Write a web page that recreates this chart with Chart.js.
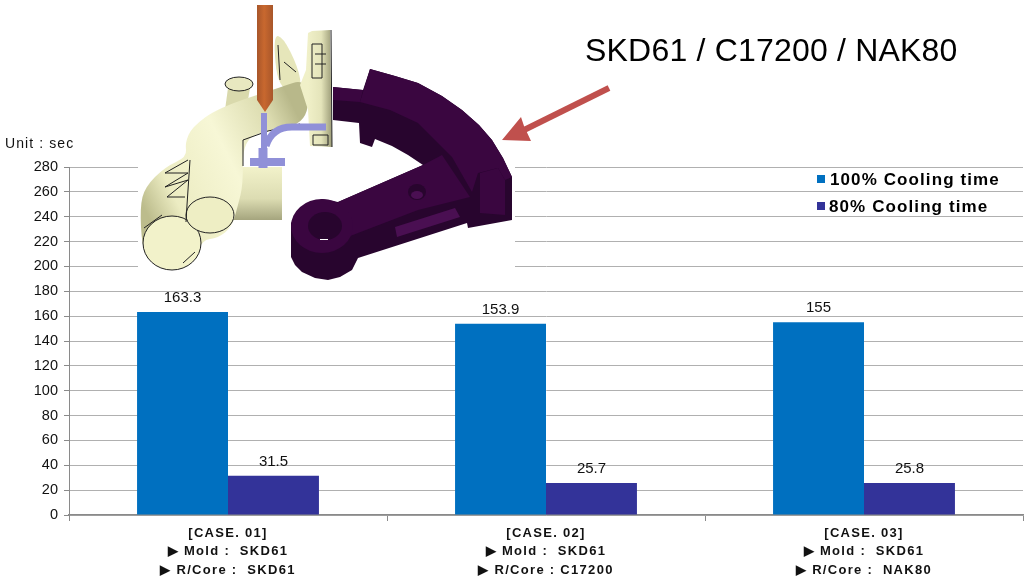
<!DOCTYPE html>
<html><head><meta charset="utf-8">
<style>html,body{margin:0;padding:0;background:#fff;overflow:hidden}#w{position:relative;width:1027px;height:584px}canvas{display:block}</style>
<script src="https://cdn.jsdelivr.net/npm/chart.js@4"></script>
</head><body><div id="w"><canvas id="c" width="1027" height="584"></canvas></div>
<script>
const categories = [
  ["[CASE. 01]", "▶ Mold :  SKD61", "▶ R/Core :  SKD61"],
  ["[CASE. 02]", "▶ Mold :  SKD61", "▶ R/Core : C17200"],
  ["[CASE. 03]", "▶ Mold :  SKD61", "▶ R/Core :  NAK80"]
];
const seriesNames = ["100% Cooling time", "80% Cooling time"];
const cooling100 = [163.3, 153.9, 155];
const cooling80 = [31.5, 25.7, 25.8];
const seriesColors = ["#0070c0", "#333399"];
const titleText = "SKD61 / C17200 / NAK80";
const unitText = "Unit : sec";
const sans = '"Liberation Sans",Arial,sans-serif';

function poly(ctx, pts, fill){
  ctx.beginPath();
  pts.forEach((p,i)=> i ? ctx.lineTo(p[0],p[1]) : ctx.moveTo(p[0],p[1]));
  ctx.closePath(); ctx.fillStyle = fill; ctx.fill();
}
function smooth(ctx, pts, fill){
  const n=pts.length, mid=(a,b)=>[(a[0]+b[0])/2,(a[1]+b[1])/2];
  let m=mid(pts[n-1],pts[0]);
  ctx.beginPath();ctx.moveTo(m[0],m[1]);
  for(let i=0;i<n;i++){const q=mid(pts[i],pts[(i+1)%n]);ctx.quadraticCurveTo(pts[i][0],pts[i][1],q[0],q[1]);}
  ctx.closePath();ctx.fillStyle=fill;ctx.fill();
}
function ell(ctx,x,y,rx,ry,fill,stroke){
  ctx.beginPath(); ctx.ellipse(x,y,rx,ry,0,0,Math.PI*2);
  if(fill){ctx.fillStyle=fill;ctx.fill();}
  if(stroke){ctx.strokeStyle=stroke;ctx.lineWidth=1;ctx.stroke();}
}
function path(ctx,pts,color,w){
  ctx.strokeStyle=color;ctx.lineWidth=w;ctx.beginPath();
  pts.forEach((p,i)=> i?ctx.lineTo(p[0],p[1]):ctx.moveTo(p[0],p[1]));ctx.stroke();
}
function illustration(ctx){
  ctx.fillStyle="#fff"; ctx.fillRect(138,160,377,110);
  const dark="#28052e", mid="#3a0640";
  poly(ctx,[[370,69],[395,76],[418,83],[442,96],[462,110],[479,125],[492,140],[503,158],[512,177],[512,220],[468,228],[467,223],[358,258],[352,270],[340,277],[328,280],[315,278],[302,272],[295,265],[291,257],[291,223],[302,207],[322,199],[338,202],[423,165],[408,155],[392,146],[375,139],[372,147],[360,143],[359,123],[333,120],[333,87],[363,90]],dark);
  poly(ctx,[[370,69],[395,76],[418,83],[442,96],[462,110],[479,125],[492,140],[503,158],[512,177],[505,180],[498,168],[478,173],[472,192],[452,157],[418,123],[390,110],[360,102]],mid);
  poly(ctx,[[333,87],[363,90],[360,102],[333,100]],mid);
  poly(ctx,[[338,202],[423,165],[442,155],[470,197],[418,210],[358,233],[340,240]],mid);
  ell(ctx,322,226,31,27,mid);
  poly(ctx,[[395,227],[455,208],[460,217],[397,237]],"#4a0f52");
  poly(ctx,[[480,173],[498,168],[505,180],[505,215],[480,213]],mid);
  ell(ctx,325,226,17,14,dark);
  ctx.fillStyle="#fff";ctx.fillRect(320,239,8,1);
  ell(ctx,417,192,9,8,dark);
  ell(ctx,417,195,6,4,"#4a0f52");

  const edge="#222";
  smooth(ctx,[[273,35],[283,37],[298,67],[302,90],[278,90]],"#e6e6ba");
  path(ctx,[[278,45],[280,80]],edge,1);
  path(ctx,[[284,62],[296,72]],edge,1);
  poly(ctx,[[228,88],[250,88],[248,100],[225,110]],"#d9d9ac");
  ell(ctx,239,84,14,7,"#e8e8c0",edge);
  const bodyG=ctx.createLinearGradient(140,200,300,120);
  bodyG.addColorStop(0,"#bcbc8c");bodyG.addColorStop(.18,"#ececc2");bodyG.addColorStop(.55,"#f7f7d6");bodyG.addColorStop(.85,"#dcdcb0");bodyG.addColorStop(1,"#b8b88a");
  const blk=ctx.createLinearGradient(0,167,0,220);
  blk.addColorStop(0,"#f2f2ca");blk.addColorStop(.6,"#dcdcb2");blk.addColorStop(1,"#a5a57e");
  poly(ctx,[[243,167],[282,167],[282,220],[228,220],[228,175]],blk);
  smooth(ctx,[[308,78],[278,88],[218,108],[192,127],[185,143],[187,157],[165,167],[145,187],[140,207],[142,247],[150,262],[172,272],[195,260],[202,240],[218,238],[232,227],[238,205],[243,185],[243,140],[268,130],[308,123]],bodyG);
  const fl=ctx.createLinearGradient(308,0,332,0);
  fl.addColorStop(0,"#f0f0c8");fl.addColorStop(.55,"#e4e4ba");fl.addColorStop(1,"#9c9c78");
  poly(ctx,[[308,33],[312,31],[330,30],[332,147],[310,146],[308,110],[300,85],[306,70]],fl);
  path(ctx,[[312,44],[322,44],[322,78],[312,78],[312,44]],edge,1);
  path(ctx,[[315,54],[326,54]],edge,1);path(ctx,[[315,64],[326,64]],edge,1);
  path(ctx,[[331,30],[332,147]],edge,1);
  path(ctx,[[313,135],[328,135],[328,145],[313,145],[313,135]],edge,1);
  path(ctx,[[243,140],[243,166]],edge,1);
  path(ctx,[[243,140],[268,131],[300,124]],edge,1);
  ell(ctx,172,243,29,27,"#f2f2ca",edge);
  ell(ctx,210,215,24,18,"#eeeec4",edge);
  path(ctx,[[188,160],[165,173],[188,173],[165,187],[188,180],[167,197],[185,197]],edge,1);
  path(ctx,[[190,160],[187,205],[186,222]],edge,1);
  path(ctx,[[144,228],[162,215]],edge,1);
  path(ctx,[[183,263],[195,252]],edge,1);
  const blue="#9090d8";
  path(ctx,[[264,113],[264,150]],blue,6);
  path(ctx,[[263,148],[263,168]],blue,9);
  ctx.lineCap="butt";ctx.strokeStyle=blue;ctx.lineWidth=7;
  ctx.beginPath();ctx.moveTo(266,146);ctx.quadraticCurveTo(272,127,292,127);ctx.lineTo(326,127);ctx.stroke();
  poly(ctx,[[250,158],[285,158],[285,166],[250,166]],blue);
  const nz=ctx.createLinearGradient(257,0,273,0);
  nz.addColorStop(0,"#a8562a");nz.addColorStop(.45,"#c8682f");nz.addColorStop(1,"#a8562a");
  poly(ctx,[[257,5],[273,5],[273,100],[265,112],[257,100]],nz);
  path(ctx,[[609,88],[518,133]],"#c0504d",6);
  poly(ctx,[[502,140],[521,117],[524,126],[531,141]],"#c0504d");
}
const decor = {
  id:"decor",
  afterLayout(chart){
    const x=chart.scales.x;
    if(!x._spaced){
      x._spaced=true;
      const orig=x.drawLabels;
      x.drawLabels=function(a){chart.ctx.save();chart.ctx.letterSpacing="1.3px";orig.call(this,a);chart.ctx.restore();};
    }
  },
  afterDraw(chart){
    const ctx=chart.ctx;
    ctx.save();
    illustration(ctx);
    ctx.fillStyle="#111";ctx.textAlign="center";ctx.textBaseline="alphabetic";
    ctx.font="15px "+sans;
    chart.data.datasets.forEach((ds,i)=>{
      chart.getDatasetMeta(i).data.forEach((bar,j)=>{
        ctx.fillText(String(ds.data[j]),bar.x,bar.y-10);
      });
    });
    ctx.textAlign="left";ctx.textBaseline="middle";
    ctx.fillStyle="#000";
    ctx.font="32px "+sans;ctx.letterSpacing="0.2px";ctx.fillText(titleText,585,52);
    ctx.font="14px "+sans;ctx.letterSpacing="1.1px";ctx.fillStyle="#111";ctx.fillText(unitText,5,144);
    ctx.font="bold 17px "+sans;ctx.letterSpacing="1.1px";
    const ly=[180,207], lx=[830,829];
    seriesNames.forEach((n,i)=>{
      ctx.fillStyle=seriesColors[i];ctx.fillRect(817,ly[i]-5,8,8);
      ctx.fillStyle="#000";ctx.fillText(n,lx[i],ly[i]);
    });
    ctx.restore();
  }
};
new Chart(document.getElementById("c"),{
  type:"bar",
  data:{labels:categories,datasets:[
    {label:seriesNames[0],data:cooling100,backgroundColor:seriesColors[0],barPercentage:1,categoryPercentage:0.572},
    {label:seriesNames[1],data:cooling80,backgroundColor:seriesColors[1],barPercentage:1,categoryPercentage:0.572}
  ]},
  options:{
    responsive:false,animation:false,
    layout:{padding:{top:167,right:4,left:0,bottom:0}},
    plugins:{legend:{display:false},title:{display:false},tooltip:{enabled:false}},
    scales:{
      x:{
        afterFit(s){s.height=69;},
        border:{color:"#8a8a8a",width:1.5},
        grid:{display:true,offset:true,drawOnChartArea:false,tickLength:6,color:"#8a8a8a"},
        ticks:{color:"#111",padding:3,maxRotation:0,autoSkip:false,font:{family:sans,size:13,weight:"bold",lineHeight:1.42}}
      },
      y:{
        min:0,max:280,
        afterFit(s){s.width=69;},
        border:{color:"#8a8a8a",width:1},
        grid:{color:"#b0b0b0",lineWidth:1,tickLength:5,tickColor:"#8a8a8a"},
        ticks:{stepSize:20,color:"#111",padding:6,font:{family:sans,size:14.5}}
      }
    }
  },
  plugins:[decor]
});
</script></body></html>
